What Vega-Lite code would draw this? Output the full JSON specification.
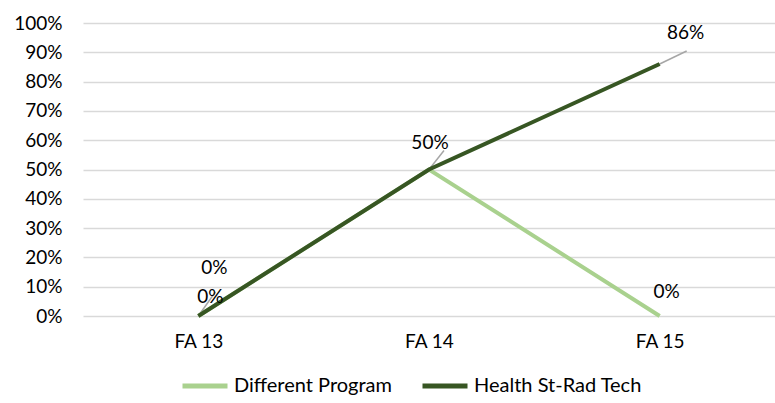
{
  "$schema": "https://vega.github.io/schema/vega-lite/v6.json",
  "width": 692,
  "height": 293,
  "autosize": {"type": "none"},
  "padding": {"left": 83, "top": 23, "right": 0, "bottom": 87},
  "background": "white",
  "config": {
    "view": {"stroke": null},
    "font": "Lato",
    "axis": {"labelFont": "Lato", "labelColor": "#000000", "labelFontSize": 19},
    "legend": {"labelFont": "Lato"}
  },
  "data": {
    "values": [
      {"period": "FA 13", "series": "Different Program", "value": 0},
      {"period": "FA 14", "series": "Different Program", "value": 0.5},
      {"period": "FA 15", "series": "Different Program", "value": 0},
      {"period": "FA 13", "series": "Health St-Rad Tech", "value": 0},
      {"period": "FA 14", "series": "Health St-Rad Tech", "value": 0.5},
      {"period": "FA 15", "series": "Health St-Rad Tech", "value": 0.86}
    ]
  },
  "encoding": {
    "x": {
      "field": "period", "type": "ordinal",
      "scale": {"type": "point", "padding": 0.5},
      "axis": {"title": null, "labelAngle": 0, "domain": false, "ticks": false, "labelPadding": 16}
    },
    "y": {
      "field": "value", "type": "quantitative",
      "scale": {"domain": [0, 1]},
      "axis": {"title": null, "format": ".0%", "values": [0, 0.1, 0.2, 0.3, 0.4, 0.5, 0.6, 0.7, 0.8, 0.9, 1], "domain": false, "ticks": false, "labelPadding": 21, "gridColor": "#d9d9d9", "gridWidth": 1.5}
    }
  },
  "layer": [
    {
      "transform": [{"filter": "datum.series == 'Health St-Rad Tech' && datum.period == 'FA 13'"}],
      "mark": {"type": "rule", "color": "#a6a6a6", "strokeWidth": 1.5, "x2Offset": 17, "y2Offset": -24},
      "encoding": {"x2": {"field": "period"}, "y2": {"field": "value"}}
    },
    {
      "transform": [{"filter": "datum.series == 'Health St-Rad Tech' && datum.period == 'FA 14'"}],
      "mark": {"type": "rule", "color": "#a6a6a6", "strokeWidth": 1.5, "x2Offset": 15, "y2Offset": -19},
      "encoding": {"x2": {"field": "period"}, "y2": {"field": "value"}}
    },
    {
      "transform": [{"filter": "datum.series == 'Health St-Rad Tech' && datum.period == 'FA 15'"}],
      "mark": {"type": "rule", "color": "#a6a6a6", "strokeWidth": 1.5, "x2Offset": 27, "y2Offset": -13},
      "encoding": {"x2": {"field": "period"}, "y2": {"field": "value"}}
    },
    {
      "mark": {"type": "line", "strokeWidth": 4},
      "encoding": {
        "color": {
          "field": "series", "type": "nominal",
          "scale": {"domain": ["Different Program", "Health St-Rad Tech"], "range": ["#A9D18E", "#375623"]},
          "legend": {"title": null, "orient": "none", "legendX": 97, "legendY": 338, "direction": "horizontal", "symbolType": "stroke", "symbolStrokeWidth": 5, "symbolSize": 2025, "labelFontSize": 20, "labelLimit": 300, "labelColor": "#000000", "columnPadding": 20, "labelOffset": 4}
        },
        "order": {"field": "series"}
      }
    },
    {
      "transform": [{"filter": "datum.series == 'Different Program' && datum.period == 'FA 13'"}],
      "mark": {"type": "text", "fontSize": 19, "color": "#000000", "dx": 16, "dy": -48},
      "encoding": {"text": {"field": "value", "format": ".0%"}}
    },
    {
      "transform": [{"filter": "datum.series == 'Health St-Rad Tech' && datum.period == 'FA 13'"}],
      "mark": {"type": "text", "fontSize": 19, "color": "#000000", "dx": 12, "dy": -19},
      "encoding": {"text": {"field": "value", "format": ".0%"}}
    },
    {
      "transform": [{"filter": "datum.series == 'Health St-Rad Tech' && datum.period == 'FA 14'"}],
      "mark": {"type": "text", "fontSize": 19, "color": "#000000", "dx": 1, "dy": -27},
      "encoding": {"text": {"field": "value", "format": ".0%"}}
    },
    {
      "transform": [{"filter": "datum.series == 'Health St-Rad Tech' && datum.period == 'FA 15'"}],
      "mark": {"type": "text", "fontSize": 19, "color": "#000000", "dx": 26, "dy": -31},
      "encoding": {"text": {"field": "value", "format": ".0%"}}
    },
    {
      "transform": [{"filter": "datum.series == 'Different Program' && datum.period == 'FA 15'"}],
      "mark": {"type": "text", "fontSize": 19, "color": "#000000", "dx": 7, "dy": -24},
      "encoding": {"text": {"field": "value", "format": ".0%"}}
    }
  ]
}
